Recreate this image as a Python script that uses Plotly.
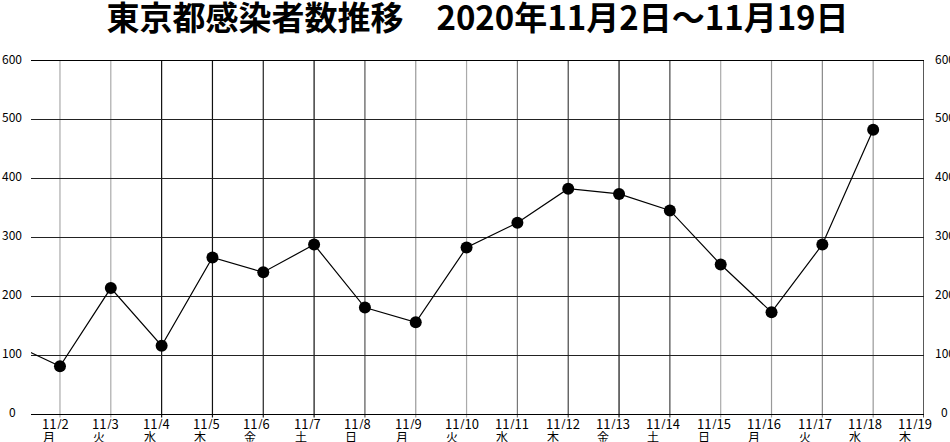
import plotly.graph_objects as go

# ---- data ----
dates = ["11/1", "11/2", "11/3", "11/4", "11/5", "11/6", "11/7", "11/8", "11/9", "11/10",
         "11/11", "11/12", "11/13", "11/14", "11/15", "11/16", "11/17", "11/18", "11/19"]
weekdays = ["日", "月", "火", "水", "木", "金", "土", "日", "月", "火",
            "水", "木", "金", "土", "日", "月", "火", "水", "木"]
cases = [122, 81, 214, 116, 266, 241, 288, 181, 156, 283,
         325, 383, 374, 346, 254, 173, 288, 483, None]
y_ticks = [0, 100, 200, 300, 400, 500, 600]
y_tick_labels = ["0", "100", "200", "300", "400", "500", "600"]
title_text = "東京都感染者数推移　2020年11月2日～11月19日"

# ---- styling ----
FONT = "Noto Sans CJK JP"
# colours of the vertical day lines (11/2 .. 11/19), as they appear in the scan
vline_colors = ["#aaaaaa", "#aaaaaa", "#111111", "#111111", "#222222", "#111111",
                "#555555", "#999999", "#aaaaaa", "#777777", "#444444", "#111111",
                "#444444", "#aaaaaa", "#999999", "#888888", "#999999", "#000000"]

xs = list(range(-1, len(dates) - 1))  # 11/1 -> -1, 11/2 -> 0, ...

fig = go.Figure()
fig.add_trace(go.Scatter(
    x=xs, y=cases, mode="lines+markers",
    line=dict(color="#000000", width=1.2),
    marker=dict(color="#000000", size=12),
    cliponaxis=True, showlegend=False, hoverinfo="skip",
))

shapes = []
annotations = []
for i, (d, w) in enumerate(zip(dates, weekdays)):
    xi = xs[i]
    if xi < 0:
        continue
    shapes.append(dict(type="line", xref="x", yref="paper", x0=xi, x1=xi, y0=-0.01, y1=1,
                       line=dict(color=vline_colors[xi], width=1.3 if xi == 17 else 1.2),
                       layer="below"))
    annotations.append(dict(x=xi, y=0, xref="x", yref="y", text=d,
                            showarrow=False, align="left", height=12, borderpad=0,
                            xanchor="left", yanchor="top", xshift=-19 - 0.45 * xi, yshift=-2,
                            font=dict(family=FONT, size=13, color="#000000")))
    annotations.append(dict(x=xi, y=0, xref="x", yref="y", text=w,
                            showarrow=False, align="left", height=12, borderpad=0,
                            xanchor="left", yanchor="top", xshift=-18 - 0.45 * xi, yshift=-15,
                            font=dict(family=FONT, size=12, color="#000000")))

for v, t in zip(y_ticks, y_tick_labels):
    annotations.append(dict(x=-0.021, y=v, xref="paper", yref="y", text=t, showarrow=False,
                            xanchor="center", yanchor="middle", yshift=3,
                            font=dict(family=FONT, size=12, color="#000000")))
    annotations.append(dict(x=1.0235, y=v, xref="paper", yref="y", text=t, showarrow=False,
                            xanchor="center", yanchor="middle", yshift=3,
                            font=dict(family=FONT, size=12, color="#000000")))

fig.update_layout(
    width=950, height=442,
    margin=dict(l=31, r=26, t=61, b=28),
    paper_bgcolor="#ffffff", plot_bgcolor="#ffffff",
    title=dict(text="<b>" + title_text + "</b>", xref="paper", x=0.5, xanchor="center",
               yref="container", y=0.958, yanchor="middle",
               font=dict(family=FONT, size=33, color="#000000")),
    xaxis=dict(range=[-0.57, 17], showgrid=False, zeroline=False, showticklabels=False,
               ticks="", showline=True, linecolor="#000000", linewidth=1.2, mirror=True,
               fixedrange=True),
    yaxis=dict(range=[0, 600], tickvals=y_ticks, showticklabels=False, ticks="",
               showgrid=True, gridcolor="#222222", gridwidth=1.2, zeroline=False,
               showline=False, fixedrange=True),
    shapes=shapes,
    annotations=annotations,
    showlegend=False,
)

fig.write_html("out.html", config={"displayModeBar": False, "staticPlot": True},
               post_script="document.body.style.margin='0';document.body.style.overflow='hidden';")
